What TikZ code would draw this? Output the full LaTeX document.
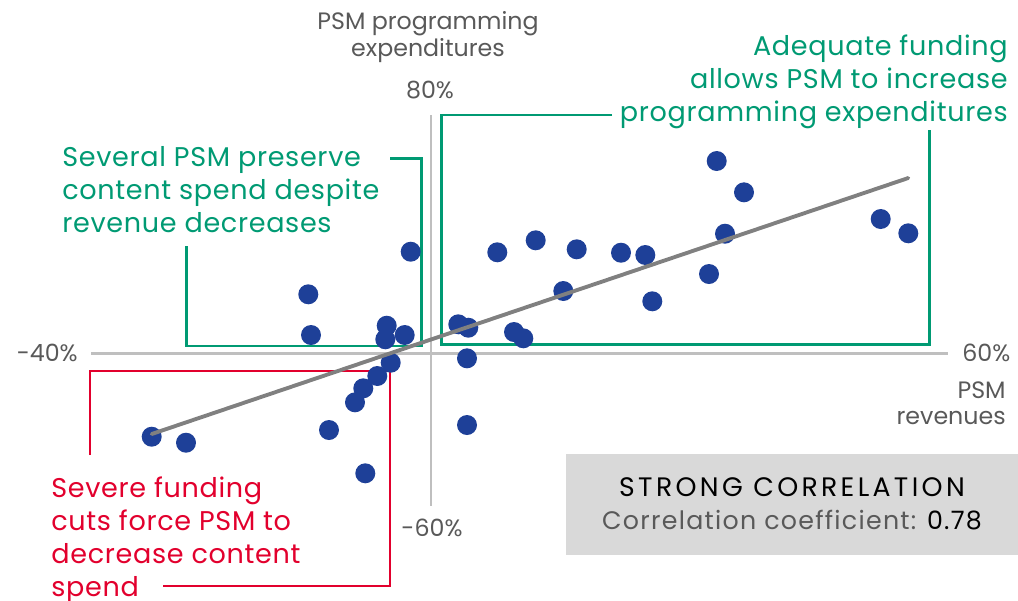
\documentclass[tikz,border=0pt]{standalone}
\usepackage{fontspec}
\setmainfont{Poppins}
\definecolor{psmgreen}{RGB}{0,154,115}
\definecolor{psmred}{RGB}{226,0,45}
\definecolor{dotblue}{RGB}{30,64,152}
\definecolor{axisgray}{RGB}{191,191,191}
\definecolor{trendgray}{RGB}{128,128,128}
\definecolor{labelgray}{RGB}{89,89,89}
\definecolor{boxgray}{RGB}{217,217,217}
\tikzset{
  axisline/.style={draw=axisgray, line width=1.7pt},
  bracketgreen/.style={draw=psmgreen, line width=1.5pt},
  bracketred/.style={draw=psmred, line width=1.5pt},
  trend/.style={draw=trendgray, line width=2.2pt, line cap=round},
  dot/.style={circle, fill=dotblue, inner sep=0pt, minimum size=0.4cm},
  axislabel/.style={text=labelgray, inner sep=0pt, font=\fontsize{13.5}{15.3}\selectfont},
  note/.style={inner sep=0pt, font=\fontsize{15.4}{18.8}\selectfont\addfontfeature{LetterSpace=2.5}},
}
\begin{document}
\begin{tikzpicture}[x=0.02cm, y=-0.02cm]
\useasboundingbox (0,0) rectangle (1018,600);

% axes
\coordinate (xl) at (91,353);
\coordinate (xr) at (948,353);
\coordinate (yt) at (431,115);
\coordinate (yb) at (431,506);
\draw[axisline] (xl) -- (xr);
\draw[axisline] (yt) -- (yb);

% quadrant brackets
\draw[bracketgreen] (612,115) -- (441.5,115) -- (441.5,344.5) -- (929.5,344.5) -- (929.5,130);
\draw[bracketgreen] (390,158.5) -- (421.5,158.5) -- (421.5,346) -- (186.5,346) -- (186.5,246);
\draw[bracketred] (90,455) -- (90,371) -- (390,371) -- (390,586) -- (163,586);

% data points
\foreach \px/\py [count=\i] in {
  716.7/161, 744/192.3, 880.7/219, 908.3/233.3, 725/233.7,
  497.3/252.3, 535.7/240.3, 576.7/249.3, 621/252.7, 645.3/255,
  709/274, 563.3/291, 652.3/301.3, 458.3/324.3, 468.3/327.7,
  514/332, 523.3/338.3, 467/358.3, 410.7/251.7, 308.3/294.3,
  311/335, 386.7/325.7, 385.3/339.3, 404.7/335, 390.7/362.7,
  377.3/376, 363.3/388.3, 355/402.3, 329/430, 151.7/436.7,
  186/442.7, 365.3/473.3, 467/425}
  \node[dot] (d\i) at (\px,\py) {};

% regression line
\coordinate (t0) at (151.7,434);
\coordinate (t1) at (908.3,178);
\draw[trend] (t0) -- (t1);

% axis labels
\node[axislabel, anchor=north, align=center] (ytitle) at (428,11) {PSM programming\\expenditures};
\node[axislabel] (ymax) at (430,90) {80\%};
\node[axislabel] (ymin) at (432,528) {-60\%};
\node[axislabel, anchor=east] (xmin) at (78,353) {-40\%};
\node[axislabel, anchor=west] (xmax) at (962,353) {60\%};
\node[axislabel, anchor=north east, align=right] (xtitle) at (1006,381) {PSM\\revenues};

% annotations
\node[note, text=psmgreen, anchor=north east, align=right] (adequate) at (1008,34)
  {Adequate funding\\allows PSM to increase\\programming expenditures};
\node[note, text=psmgreen, anchor=north west, align=left] (preserve) at (62,146)
  {Several PSM preserve\\content spend despite\\revenue decreases};
\node[note, text=psmred, anchor=north west, align=left] (severe) at (51,476)
  {Severe funding\\cuts force PSM to\\decrease content\\spend};

% correlation summary
\node[fill=boxgray, minimum width=9.04cm, minimum height=2.02cm, inner sep=0pt, anchor=north west] (summary) at (566,454) {};
\node[inner sep=0pt, font=\fontsize{15.2}{16}\selectfont\addfontfeature{LetterSpace=12.5}] (strong) at (792,487) {STRONG CORRELATION};
\node[inner sep=0pt, font=\fontsize{14.4}{16}\selectfont\addfontfeature{LetterSpace=5}, text=labelgray] (coef) at (792,520)
  {Correlation coefficient: \textcolor{black}{0.78}};
\end{tikzpicture}
\end{document}
